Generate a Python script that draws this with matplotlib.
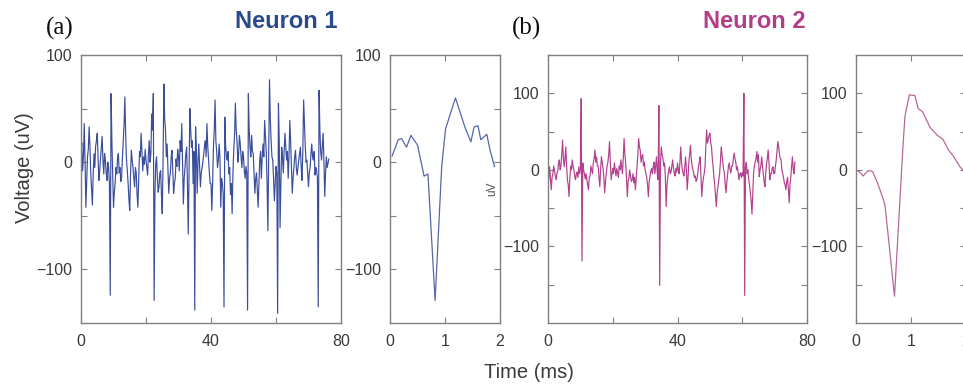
import numpy as np
import matplotlib
matplotlib.use("Agg")
import matplotlib.pyplot as plt
from matplotlib.ticker import FixedLocator

plt.rcParams['font.family'] = ['Liberation Sans', 'DejaVu Sans']

# ---------------- data ----------------
dt_ms = 0.25  # sampling step of the long traces (ms)

neuron1_trace = [
    10, 18, -8, 5, 36, 2, -42, -20, 5, 12, 33, 15, -10, -25, -40, -12, 8, -5, 15, 20,
    27, 5, -17, -8, 3, 15, 24, 2, -11, 8, 2, -10, -17, 0, -5, -20, -124, 64, 20, -10,
    -42, -28, -20, -5, -11, 4, 8, -10, -5, -18, -14, 5, 20, 35, 61, 25, 2, -8, -20, -35,
    -45, -10, 11, 2, -5, -15, -23, -5, -10, -30, -42, -15, 10, 5, 27, 10, -8, 5, -2, 12,
    2, -5, -12, 8, 20, 0, 8, 45, 30, 64, -129, -30, -1, 5, -15, -28, -23, -10, -8, -30,
    -48, 0, 73, 40, 30, 5, 17, -5, -29, -15, -10, 5, 11, -10, -29, -20, -15, 3, -4, 12,
    5, -8, 20, 10, 36, 0, -39, -15, -5, 8, 14, -20, -67, -10, 50, 30, 14, 20, -20, 10,
    -138, 33, 10, -29, 0, 17, -5, -23, -10, -5, 0, 8, 15, 20, 5, 36, 15, 2, -10, -20,
    -20, -45, -20, 14, 30, 58, 20, 10, -5, 2, 17, 5, -42, -15, -20, -30, -135, 42, 15, 5,
    2, 10, -11, -5, -30, -20, -48, -10, 11, 25, 55, 30, 20, 0, 8, 25, 17, 5, -5, 10,
    5, -8, -15, -4, -10, -138, 64, 30, 14, 5, 25, 10, 8, -10, -29, -15, -10, -25, -42, -20,
    2, 10, -15, 5, 17, 5, 39, 25, 10, -20, -64, 10, 77, 40, 20, 5, 2, -15, -36, -20,
    -4, -10, -141, 55, 20, -61, -20, 14, 5, -10, 10, 27, 15, 2, 10, -15, 5, 39, 20, -5,
    -29, -15, -5, 5, 11, -5, -12, -5, 2, 8, 14, -5, -17, 10, 58, 35, 15, 0, 2, -10,
    -23, -10, -5, 8, 17, 5, 2, 10, -12, -5, -8, -15, -135, 67, 30, 10, 2, 15, 27, 0,
    -32, -10, 5, -5, -1, 3,
]

neuron2_trace = [
    -22, -10, 4, -12, -26, -10, -5, 5, 0, -8, -13, -5, -2, 8, 13, 0, 5, 20, 39, 15,
    4, 15, 30, 5, -13, -20, -35, -10, 5, 0, 13, 5, 0, -8, -13, -5, -3, -10, 4, -5,
    0, 93, -119, 9, 0, -5, -12, -5, -13, -20, -26, -10, -8, 5, 0, -5, 10, 15, 26, 10,
    17, 5, 5, -10, -22, 0, 17, 10, 2, -10, -30, -15, -5, 5, 10, 20, 37, 10, -13, -5,
    2, -5, 9, 0, -8, 2, -4, -10, 5, 0, 13, 5, -5, 15, 41, 20, 8, -10, -35, -15,
    -10, 0, -9, -15, -13, -5, -17, -10, -26, -10, 5, 20, 41, 30, 25, 10, 17, 20, 5, 10,
    0, -5, -10, -20, -35, -15, -9, -2, 2, -5, 4, 10, -5, 5, 17, -5, -13, 84, -151, 10,
    30, 20, 15, 5, 9, -10, -48, -20, -10, -2, 4, -5, -3, 5, 13, 2, -4, -8, 2, -3,
    9, 0, -5, 10, 30, 10, 0, -5, -8, 5, 17, 0, -26, -10, 10, 20, 32, 15, 5, 0,
    -4, -10, -8, -15, -13, -5, 5, 10, 17, -10, -35, -20, -10, -5, 4, 30, 52, 35, 40, 45,
    48, 35, 30, 15, 4, -10, -20, -35, -48, -30, -22, -15, -5, 10, 30, 20, 10, 0, -4, -20,
    -30, -15, -5, 5, 9, 0, -4, 5, 5, 15, 22, 15, 10, 0, 4, -5, -13, -5, -4, -10,
    -4, -8, 100, -164, 4, 10, -5, 0, -13, -20, -30, -40, -58, -30, -4, 5, 10, 15, 24, 10,
    20, -9, 0, 5, 17, 5, -5, -15, -22, -5, 8, 15, 26, 10, -13, -5, -5, 2, 4, -5,
    -5, 5, 13, 25, 37, 30, 20, 15, 13, 0, -5, -10, -17, -20, -26, -15, -10, -25, -43, -20,
    -9, 5, 17, 0, -5, 10,
]

wave1_t = [0.04, 0.15, 0.21, 0.30, 0.38, 0.50, 0.62, 0.69, 0.82, 0.94,
           1.01, 1.09, 1.19, 1.36, 1.47, 1.53, 1.60, 1.65, 1.76, 1.82, 1.90]
wave1_v = [6, 21, 22, 14, 25, 16, -13, -11, -129, -4,
           31, 44, 60, 33, 19, 33, 34, 21, 26, 11, -4]

wave2_t = [0.0, 0.07, 0.13, 0.22, 0.30, 0.38, 0.50, 0.53, 0.70, 0.85,
           0.89, 0.97, 1.07, 1.13, 1.21, 1.35, 1.48, 1.58, 1.68, 1.77, 1.89, 2.0]
wave2_v = [0, -3, -8, -1, -2, -15, -39, -48, -165, 26,
           70, 98, 97, 80, 76, 55, 45, 40, 26, 18, 4, -5]

trace_xticks = [0, 40, 80]
trace_xminor = [20, 60]
wave_xticks = [0, 1, 2]
yticks = [-100, 0, 100]

# ---------------- style ----------------
W, H = 963, 387
fig = plt.figure(figsize=(W / 100, H / 100), dpi=100)

def px_axes(l, r, t, b):
    return fig.add_axes([l / W, 1 - b / H, (r - l) / W, (b - t) / H])

SPINE = '#808080'
TXT = '#3a3a3a'

def style(ax, xlim, ylim, xt, xminor, yminor):
    ax.set_xlim(*xlim)
    ax.set_ylim(*ylim)
    ax.set_xticks(xt)
    ax.xaxis.set_minor_locator(FixedLocator(xminor))
    ax.set_yticks(yticks)
    ax.set_yticklabels(['\u2212100', '0', '100'])
    ax.yaxis.set_minor_locator(FixedLocator(yminor))
    for s in ax.spines.values():
        s.set_color(SPINE)
        s.set_linewidth(1.0)
    ax.tick_params(which='both', direction='in', top=True, right=True,
                   color=SPINE, labelcolor=TXT, labelsize=11.5, width=0.8)
    ax.tick_params(which='major', length=4, pad=6)
    ax.tick_params(axis='x', which='major', pad=8)
    ax.tick_params(which='minor', length=4)

t_axis1 = np.arange(len(neuron1_trace)) * dt_ms
t_axis2 = np.arange(len(neuron2_trace)) * dt_ms

C1 = '#3a4e9c'
C1w = '#5567a8'
C2 = '#b2408e'
C2w = '#b8679a'

# Neuron 1 long trace
ax1 = px_axes(81, 341, 55, 323)
ax1.plot(t_axis1, neuron1_trace, color=C1, lw=0.85)
style(ax1, (0, 80), (-150, 100), trace_xticks, trace_xminor, [-50, 50])

# Neuron 1 waveform
ax2 = px_axes(390, 500, 55, 323)
ax2.plot(wave1_t, wave1_v, color=C1w, lw=0.9)
style(ax2, (0, 2), (-150, 100), wave_xticks, [], [-50, 50])
ax2.text(0.93, 0.50, 'uV', transform=ax2.transAxes, rotation=90,
         fontsize=8.5, color='#555555', ha='center', va='center')

# Neuron 2 long trace
ax3 = px_axes(548, 807, 55, 323)
ax3.plot(t_axis2, neuron2_trace, color=C2, lw=0.85)
style(ax3, (0, 80), (-200, 150), trace_xticks, trace_xminor, [-150, -50, 50])

# Neuron 2 waveform (cropped at right edge)
ax4 = px_axes(856, 966, 55, 323)
ax4.plot(wave2_t, wave2_v, color=C2w, lw=0.9)
style(ax4, (0, 2), (-200, 150), wave_xticks, [], [-150, -50, 50])

# titles and labels
fig.text(286 / W, 1 - 21 / H, 'Neuron 1', fontsize=17, fontweight='bold',
         color='#2b4a8b', ha='center', va='center')
fig.text(754 / W, 1 - 21 / H, 'Neuron 2', fontsize=17, fontweight='bold',
         color='#b23e88', ha='center', va='center')
fig.text(60 / W, 1 - 28 / H, '(a)', fontsize=18, family='Liberation Serif',
         color='#111111', ha='center', va='center')
fig.text(526 / W, 1 - 28 / H, '(b)', fontsize=18, family='Liberation Serif',
         color='#111111', ha='center', va='center')
fig.text(24 / W, 1 - 168 / H, 'Voltage (uV)', fontsize=14.5, color=TXT,
         rotation=90, ha='center', va='center')
fig.text(529 / W, 1 - 373 / H, 'Time (ms)', fontsize=14.5, color=TXT,
         ha='center', va='center')

fig.savefig('out.png', dpi=100)
